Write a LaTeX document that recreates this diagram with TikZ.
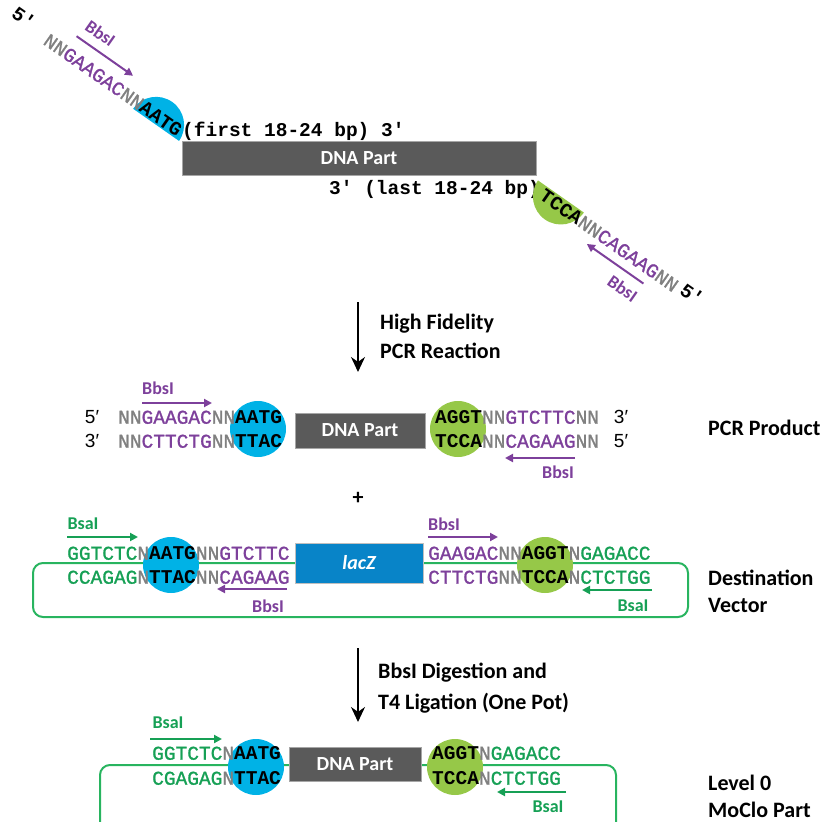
\documentclass[tikz,border=0pt]{standalone}
\usepackage{fontspec}
\setmainfont{Carlito}
\newfontfamily\seqfont[UprightFeatures={FakeBold=1.2}]{Liberation Mono}
\newfontfamily\primefont{Liberation Sans}
\usetikzlibrary{arrows.meta}

\definecolor{bbs}{RGB}{125,64,155}
\definecolor{bsa}{RGB}{22,160,85}
\definecolor{loopgreen}{RGB}{40,180,95}
\definecolor{ngray}{RGB}{128,128,128}
\definecolor{ohblue}{RGB}{0,178,230}
\definecolor{ohgreen}{RGB}{150,200,72}
\definecolor{partgray}{RGB}{90,90,90}
\definecolor{lacblue}{RGB}{8,132,200}

% sequence pieces
\newcommand{\sN}[1]{\textcolor{ngray}{#1}}
\newcommand{\sBbs}[1]{\textcolor{bbs}{#1}}
\newcommand{\sBsa}[1]{\textcolor{bsa}{#1}}
\newcommand{\sOh}[1]{\textcolor{black}{\bfseries #1}}

\tikzset{
  seq/.style={font=\seqfont\fontsize{19.5}{20}\selectfont, inner sep=0pt, text height=13.4pt, text depth=0pt},
  strandend/.style={font=\primefont\fontsize{19}{20}\selectfont, inner sep=0pt},
  enz/.style={font=\bfseries\fontsize{18}{20}\selectfont, inner sep=0pt},
  enzarrow/.style={line width=2pt, -{Triangle[length=8pt,width=8pt]}},
  part/.style={fill=partgray, draw=black!35, line width=0.6pt, text=white, font=\bfseries\fontsize{20}{22}\selectfont},
  lab/.style={font=\bfseries\fontsize{22}{26}\selectfont, inner sep=0pt, anchor=base west},
  steparrow/.style={line width=1.6pt, -{Stealth[length=15pt,width=14pt]}},
  vecloop/.style={loopgreen, line width=2pt, rounded corners=10pt},
}

\begin{document}
\begin{tikzpicture}[x=1pt,y=-1pt]
\useasboundingbox (0,0) rectangle (822,822);
\clip (0,0) rectangle (822,822);

% primers on the part
\begin{scope}[shift={(46,38)},rotate=-35]
  \fill[ohblue] (112,8) arc[start angle=180,end angle=0,radius=28pt] -- cycle;
  \node[seq,anchor=west,transform shape] (fwdPrimer) at (0,0) {\sN{NN}\sBbs{GAAGAC}\sN{NN}\sOh{AATG}};
  \node[seq,transform shape] (fwdEnd) at (-30,-4) {\bfseries 5′};
  \draw[enzarrow,bbs] (24,-19) -- (93,-19);
  \node[enz,bbs,transform shape] (fwdSite) at (42,-35) {BbsI};
\end{scope}
\node[seq,anchor=west] (fwdAnneal) at (182,130) {\bfseries (first 18-24 bp) 3′};
\node[part,minimum width=354pt,minimum height=34pt] (topPart) at (359,158) {DNA Part};
\node[seq,anchor=east] (revAnneal) at (540,188) {\bfseries 3′ (last 18-24 bp)};
\begin{scope}[shift={(542,193)},rotate=-35]
  \fill[ohgreen] (-10.5,-8) arc[start angle=180,end angle=360,radius=28pt] -- cycle;
  \node[seq,anchor=west,transform shape] (revPrimer) at (0,0) {\sOh{TCCA}\sN{NN}\sBbs{CAGAAG}\sN{NN}};
  \node[seq,transform shape] (revEnd) at (181,-3) {\bfseries 5′};
  \draw[enzarrow,bbs] (135,16) -- (66,16);
  \node[enz,bbs,transform shape] (revSite) at (121,32) {BbsI};
\end{scope}

% step 1
\draw[steparrow] (358,302) -- (358,372);
\node[lab] (pcrStepA) at (380,329) {High Fidelity};
\node[lab] (pcrStepB) at (380,358) {PCR Reaction};

% PCR product
\fill[ohblue] (258,429) circle[radius=28pt];
\fill[ohgreen] (458,429) circle[radius=28pt];
\node[part,minimum width=130pt,minimum height=35pt] (pcrPart) at (360,430.5) {DNA Part};
\node[strandend] (pcrFive) at (92,417) {5′};
\node[strandend] (pcrThree) at (92,441) {3′};
\node[seq,anchor=west] (pcrTL) at (118,417) {\sN{NN}\sBbs{GAAGAC}\sN{NN}\sOh{AATG}};
\node[seq,anchor=west] (pcrBL) at (118,441) {\sN{NN}\sBbs{CTTCTG}\sN{NN}\sOh{TTAC}};
\node[seq,anchor=west] (pcrTR) at (435,417) {\sOh{AGGT}\sN{NN}\sBbs{GTCTTC}\sN{NN}};
\node[seq,anchor=west] (pcrBR) at (435,441) {\sOh{TCCA}\sN{NN}\sBbs{CAGAAG}\sN{NN}};
\node[strandend] (pcrThreeR) at (621,417) {3′};
\node[strandend] (pcrFiveR) at (621,441) {5′};
\draw[enzarrow,bbs] (142,403) -- (212,403);
\node[enz,bbs] (pcrSiteL) at (158,388) {BbsI};
\draw[enzarrow,bbs] (575,458) -- (505,458);
\node[enz,bbs] (pcrSiteR) at (558,472) {BbsI};
\node[lab] (pcrLab) at (708,435) {PCR Product};

\node[font=\bfseries\fontsize{22}{24}\selectfont,inner sep=0pt] (plus) at (358,498) {+};

% destination vector
\draw[vecloop] (33,563) rectangle (688,617);
\fill[ohblue] (171,565) circle[radius=28pt];
\fill[ohgreen] (545,565) circle[radius=28pt];
\node[fill=lacblue,draw=black!25,line width=0.6pt,minimum width=128pt,minimum height=40pt,text=white,font=\bfseries\itshape\fontsize{20}{22}\selectfont] (lacZ) at (359,563) {lacZ};
\node[seq,anchor=west] (dvTL) at (67,553) {\sBsa{GGTCTC}\sN{N}\sOh{AATG}\sN{NN}\sBbs{GTCTTC}};
\node[seq,anchor=west] (dvBL) at (67,577) {\sBsa{CCAGAG}\sN{N}\sOh{TTAC}\sN{NN}\sBbs{CAGAAG}};
\node[seq,anchor=west] (dvTR) at (428,553) {\sBbs{GAAGAC}\sN{NN}\sOh{AGGT}\sN{N}\sBsa{GAGACC}};
\node[seq,anchor=west] (dvBR) at (428,577) {\sBbs{CTTCTG}\sN{NN}\sOh{TCCA}\sN{N}\sBsa{CTCTGG}};
\draw[enzarrow,bsa] (67,537) -- (138,537);
\node[enz,bsa] (dvSiteA) at (83,524) {BsaI};
\draw[enzarrow,bbs] (287,589) -- (217,589);
\node[enz,bbs] (dvSiteB) at (268,606) {BbsI};
\draw[enzarrow,bbs] (428,537) -- (498,537);
\node[enz,bbs] (dvSiteC) at (444,524) {BbsI};
\draw[enzarrow,bsa] (652,590) -- (582,590);
\node[enz,bsa] (dvSiteD) at (633,606) {BsaI};
\node[lab] (dvLabA) at (708,585) {Destination};
\node[lab] (dvLabB) at (708,612) {Vector};

% step 2
\draw[steparrow] (358,648) -- (358,722);
\node[lab] (ggStepA) at (378,678) {BbsI Digestion and};
\node[lab] (ggStepB) at (378,709) {T4 Ligation (One Pot)};

% level 0 part
\draw[vecloop] (100,765) rectangle (616,840);
\fill[ohblue] (256,767) circle[radius=28pt];
\fill[ohgreen] (455,767) circle[radius=28pt];
\node[part,minimum width=132pt,minimum height=34pt] (lvPart) at (355,764) {DNA Part};
\node[seq,anchor=west] (lvTL) at (152,753) {\sBsa{GGTCTC}\sN{N}\sOh{AATG}};
\node[seq,anchor=west] (lvBL) at (152,778) {\sBsa{CGAGAG}\sN{N}\sOh{TTAC}};
\node[seq,anchor=west] (lvTR) at (432,753) {\sOh{AGGT}\sN{N}\sBsa{GAGACC}};
\node[seq,anchor=west] (lvBR) at (432,778) {\sOh{TCCA}\sN{N}\sBsa{CTCTGG}};
\draw[enzarrow,bsa] (150,739) -- (222,739);
\node[enz,bsa] (lvSiteA) at (168,723) {BsaI};
\draw[enzarrow,bsa] (566,792) -- (497,792);
\node[enz,bsa] (lvSiteB) at (548,807) {BsaI};
\node[lab] (lvLabA) at (708,790) {Level 0};
\node[lab] (lvLabB) at (708,817) {MoClo Part};
\end{tikzpicture}
\end{document}
